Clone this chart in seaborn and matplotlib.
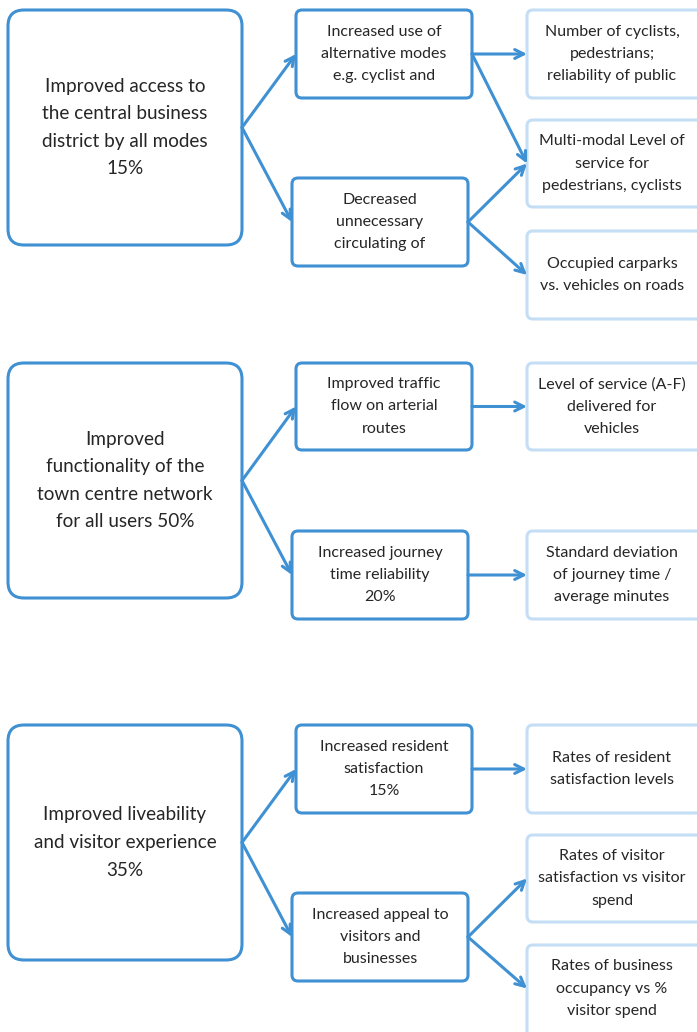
import matplotlib.pyplot as plt
import seaborn as sns
from matplotlib.patches import FancyBboxPatch

# Textos del diagrama (tres bloques: objetivo -> resultado -> indicador)
OBJETIVOS = [
    "Improved access to\nthe central business\ndistrict by all modes\n15%",
    "Improved\nfunctionality of the\ntown centre network\nfor all users 50%",
    "Improved liveability\nand visitor experience\n35%",
]
RESULTADOS = [
    "Increased use of\nalternative modes\ne.g. cyclist and",
    "Decreased\nunnecessary\ncirculating of",
    "Improved traffic\nflow on arterial\nroutes",
    "Increased journey\ntime reliability\n20%",
    "Increased resident\nsatisfaction\n15%",
    "Increased appeal to\nvisitors and\nbusinesses",
]
INDICADORES = [
    "Number of cyclists,\npedestrians;\nreliability of public",
    "Multi-modal Level of\nservice for\npedestrians, cyclists",
    "Occupied carparks\nvs. vehicles on roads",
    "Level of service (A-F)\ndelivered for\nvehicles",
    "Standard deviation\nof journey time /\naverage minutes",
    "Rates of resident\nsatisfaction levels",
    "Rates of visitor\nsatisfaction vs visitor\nspend",
    "Rates of business\noccupancy vs %\nvisitor spend",
]
# Enlaces: (objetivo -> resultado) y (resultado -> indicador)
ENLACES_OBJ = [(0, 0), (0, 1), (1, 2), (1, 3), (2, 4), (2, 5)]
ENLACES_RES = [(0, 0), (0, 1), (1, 1), (1, 2), (2, 3), (3, 4), (4, 5), (5, 6), (5, 7)]

# Layout en pixeles (x0, y0, x1, y1)
CAJA_OBJ = [(8, 10, 242, 245), (8, 363, 242, 598), (8, 725, 242, 960)]
CAJA_RES = [(296, 10, 472, 98), (292, 178, 468, 266),
            (296, 363, 472, 450), (292, 531, 468, 619),
            (296, 725, 472, 813), (292, 893, 468, 981)]
CAJA_IND = [(527, 10, 710, 98), (527, 120, 710, 207), (527, 231, 710, 319),
            (527, 363, 710, 450), (527, 531, 710, 619),
            (527, 725, 710, 813), (527, 835, 710, 922), (527, 945, 710, 1040)]

AZUL = '#3f91d3'
AZUL_CLARO = '#c3def5'
TEXTO = '#262626'

sns.set_theme(style="white")
plt.rcParams['font.family'] = ['Lato', 'DejaVu Sans']

fig = plt.figure(figsize=(6.97, 10.32), dpi=100)
ax = fig.add_axes([0, 0, 1, 1])
ax.set_xlim(0, 697)
ax.set_ylim(1032, 0)
ax.axis('off')


def caja(b, color, texto, size, radio, esp):
    x0, y0, x1, y1 = b
    ax.add_patch(FancyBboxPatch((x0, y0), x1 - x0, y1 - y0,
                                boxstyle=f"round,pad=0,rounding_size={radio}",
                                fc='white', ec=color, lw=2.2))
    # centrar el texto en la parte visible de la caja
    cx = (x0 + min(x1, 697)) / 2
    cy = (y0 + min(y1, 1032)) / 2
    ax.text(cx, cy, texto, ha='center', va='center',
            fontsize=size, color=TEXTO, linespacing=esp)


def flecha(a, b):
    ax.annotate("", xy=b, xytext=a,
                arrowprops=dict(arrowstyle="->", lw=2.2, color=AZUL,
                                mutation_scale=16, shrinkA=0, shrinkB=0))


for b, t in zip(CAJA_OBJ, OBJETIVOS):
    caja(b, AZUL, t, 13.6, 16, 1.76)
for b, t in zip(CAJA_RES, RESULTADOS):
    caja(b, AZUL, t, 11.5, 6, 1.74)
for b, t in zip(CAJA_IND, INDICADORES):
    caja(b, AZUL_CLARO, t, 11.5, 6, 1.74)

for o, r in ENLACES_OBJ:
    a = CAJA_OBJ[o]
    b = CAJA_RES[r]
    flecha((a[2], (a[1] + a[3]) / 2), (b[0], (b[1] + b[3]) / 2))
for r, i in ENLACES_RES:
    a = CAJA_RES[r]
    b = CAJA_IND[i]
    flecha((a[2], (a[1] + a[3]) / 2), (b[0], (b[1] + min(b[3], 1032)) / 2))

plt.savefig('out.png', dpi=100)
